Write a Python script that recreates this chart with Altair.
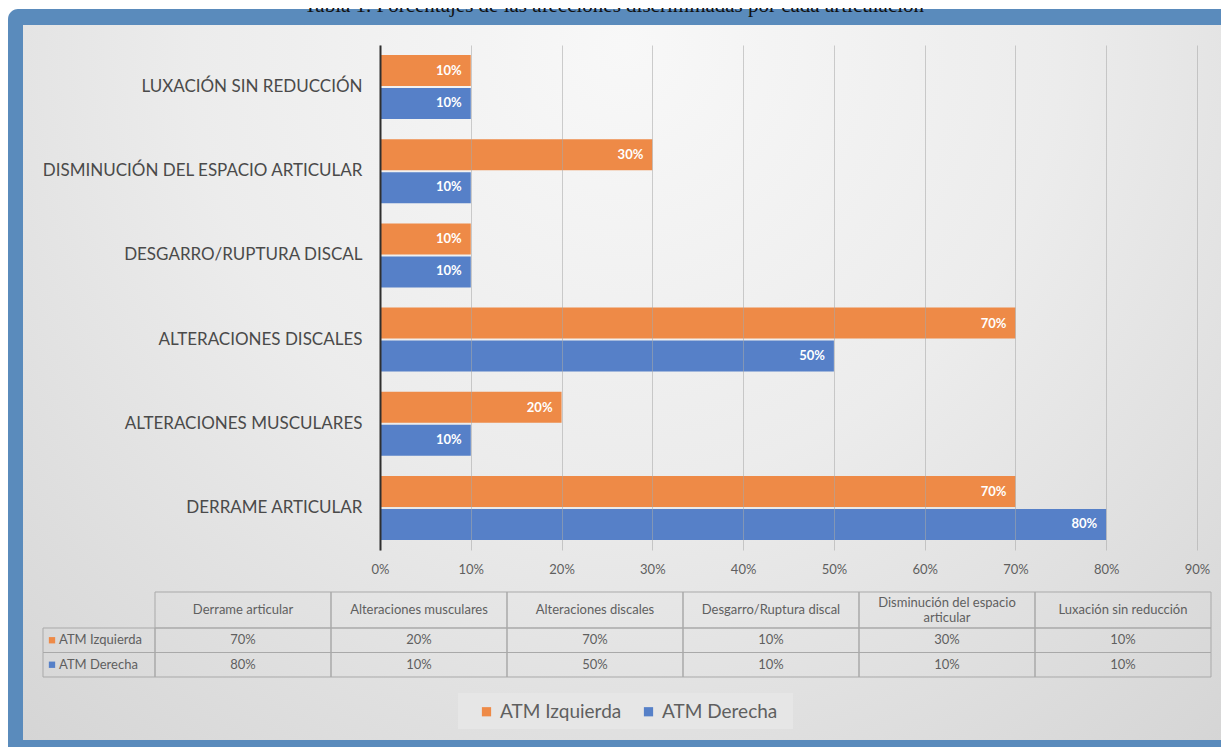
import textwrap
import altair as alt
import pandas as pd

# ---------------- data ----------------
TITLE = "Tabla 1. Porcentajes de las afecciones discriminadas por cada articulación"
categories = [
    "Derrame articular",
    "Alteraciones musculares",
    "Alteraciones discales",
    "Desgarro/Ruptura discal",
    "Disminución del espacio articular",
    "Luxación sin reducción",
]
series = ["ATM Izquierda", "ATM Derecha"]
izquierda = [70, 20, 70, 10, 30, 10]
derecha = [80, 10, 50, 10, 10, 10]
ticks = [0, 10, 20, 30, 40, 50, 60, 70, 80, 90]

# ---------------- styles ----------------
ORANGE = "#EE8A47"
BLUE = "#5680C8"
FRAME = "#5A8BBC"
FONT = "Lato"
TXT = "#5f5f5f"
DARK = "#4a4a4a"
GRID = "#a8a8a8"
TBL = "#a9a9a9"

rows = []
for cat, l, r in zip(categories, izquierda, derecha):
    rows.append({"cat": cat, "label": cat.upper(), "serie": series[0], "v": l})
    rows.append({"cat": cat, "label": cat.upper(), "serie": series[1], "v": r})
df = pd.DataFrame(rows)

head_rows = []
for c in categories:
    lines = textwrap.wrap(c, 24)
    for k, ln in enumerate(lines):
        head_rows.append({"cat": c, "line": ln, "off": k - (len(lines) - 1) / 2})
hdf = pd.DataFrame(head_rows)
cdf = pd.DataFrame({"cat": categories})
sdf = pd.DataFrame({"serie": series})
one = pd.DataFrame({"k": [0]})

# plot area geometry
PW, PH = 817, 505
PAD = {"left": 372, "top": 37, "right": 24, "bottom": 197}

xs = alt.Scale(domain=[0, 90], nice=False, zero=True)
ys = alt.Scale(domain=[c.upper() for c in categories[::-1]],
               paddingInner=0.24, paddingOuter=0.12)
os_ = alt.Scale(domain=series, paddingInner=0.06)
cs = alt.Scale(domain=series, range=[ORANGE, BLUE])
col_s = alt.Scale(domain=categories, range=[-225, 831], paddingInner=0, paddingOuter=0)
row_s = alt.Scale(domain=series, range=[583, 632], paddingInner=0, paddingOuter=0)
line_s = alt.Scale(domain=[-0.5, 0.5], range=[557.5, 572.5])

# ---------------- decorations ----------------
frame = alt.Chart(one).mark_rect(cornerRadius=10, color=FRAME).encode(
    x=alt.value(-372), x2=alt.value(880), y=alt.value(-36), y2=alt.value(760))
panel = alt.Chart(one).mark_rect(
    fill=alt.Gradient(gradient="radial", x1=0.5, y1=0.22, x2=0.5, y2=0.22, r1=0, r2=0.8,
                      stops=[alt.GradientStop(color="#f8f8f8", offset=0),
                             alt.GradientStop(color="#ececec", offset=0.45),
                             alt.GradientStop(color="#d3d3d3", offset=1)])
).encode(x=alt.value(-357), x2=alt.value(847), y=alt.value(-20), y2=alt.value(695))
title = alt.Chart(one).mark_text(
    text=TITLE, font="Liberation Serif", fontSize=21, color="#111111",
    align="center", baseline="alphabetic").encode(x=alt.value(234), y=alt.value(-33))
legend_box = alt.Chart(one).mark_rect(color="#e6e6e6").encode(
    x=alt.value(78), x2=alt.value(413), y=alt.value(648), y2=alt.value(684))

# ---------------- bars ----------------
bars = alt.Chart(df).mark_bar().encode(
    x=alt.X("v:Q", scale=xs, title=None,
            axis=alt.Axis(values=ticks, labelExpr="datum.value + '%'", grid=True,
                          gridColor=GRID, gridOpacity=0.55, gridWidth=1, domain=False,
                          ticks=False, labelPadding=13, labelFontSize=13,
                          labelFlush=False, labelColor=TXT, labelFont=FONT, zindex=1)),
    y=alt.Y("label:N", scale=ys, sort=None, title=None,
            axis=alt.Axis(domain=True, domainColor="#2f2f2f", domainWidth=2,
                          ticks=False, tickSize=0, labelPadding=18, labelFontSize=17,
                          labelColor=DARK, labelFont=FONT, labelLimit=400, zindex=2)),
    yOffset=alt.YOffset("serie:N", scale=os_, sort=series),
    color=alt.Color("serie:N", scale=cs, sort=series,
                    legend=alt.Legend(orient="none", legendX=97, legendY=657,
                                      direction="horizontal", title=None,
                                      symbolType="square", symbolSize=85,
                                      symbolStrokeWidth=0, labelFontSize=19,
                                      labelFont=FONT, labelColor=TXT,
                                      labelOffset=4, columnPadding=17)),
)
bar_labels = alt.Chart(df).mark_text(
    align="right", baseline="middle", dx=-9, color="white", fontWeight="bold",
    fontSize=13, font=FONT
).transform_calculate(pct="datum.v + '%'").encode(
    x=alt.X("v:Q", scale=xs, axis=None),
    y=alt.Y("label:N", scale=ys, sort=None, axis=None),
    yOffset=alt.YOffset("serie:N", scale=os_, sort=series),
    text="pct:N",
)

# ---------------- data table ----------------
hdr_rect = alt.Chart(cdf).mark_rect(fillOpacity=0, stroke=TBL, strokeWidth=1).encode(
    x=alt.X("cat:N", scale=col_s, sort=None, axis=None),
    y=alt.value(547), y2=alt.value(583))
hdr_text = alt.Chart(hdf).mark_text(
    fontSize=13, color=TXT, font=FONT, baseline="middle").encode(
    x=alt.X("cat:N", scale=col_s, sort=None, axis=None),
    y=alt.Y("off:Q", scale=line_s, axis=None), text="line:N")
cell_rect = alt.Chart(df).mark_rect(fillOpacity=0, stroke=TBL, strokeWidth=1).encode(
    x=alt.X("cat:N", scale=col_s, sort=None, axis=None),
    y=alt.Y("serie:N", scale=row_s, sort=None, axis=None))
cell_text = alt.Chart(df).mark_text(
    fontSize=13, color=TXT, font=FONT, baseline="middle"
).transform_calculate(pct="datum.v + '%'").encode(
    x=alt.X("cat:N", scale=col_s, sort=None, axis=None),
    y=alt.Y("serie:N", scale=row_s, sort=None, axis=None),
    text="pct:N")
lab_rect = alt.Chart(sdf).mark_rect(fillOpacity=0, stroke=TBL, strokeWidth=1).encode(
    x=alt.value(-337), x2=alt.value(-225),
    y=alt.Y("serie:N", scale=row_s, sort=None, axis=None))
lab_sq = alt.Chart(sdf).mark_square(size=40, opacity=1).encode(
    x=alt.value(-328),
    y=alt.Y("serie:N", scale=row_s, sort=None, axis=None),
    color=alt.Color("serie:N", scale=cs, legend=None))
lab_text = alt.Chart(sdf).mark_text(
    align="left", baseline="middle", fontSize=13, color=TXT, font=FONT).encode(
    x=alt.value(-321),
    y=alt.Y("serie:N", scale=row_s, sort=None, axis=None),
    text="serie:N")

chart = alt.layer(
    frame, panel, title, legend_box, bars, bar_labels,
    hdr_rect, hdr_text, cell_rect, cell_text, lab_rect, lab_sq, lab_text,
).resolve_scale(
    x="independent", y="independent", color="independent", yOffset="independent"
).properties(
    width=PW, height=PH, padding=PAD,
    autosize=alt.AutoSizeParams(type="none"),
    background="white",
).configure_view(strokeWidth=0)

chart.save("out.html", embed_options={"renderer": "svg", "actions": False})
